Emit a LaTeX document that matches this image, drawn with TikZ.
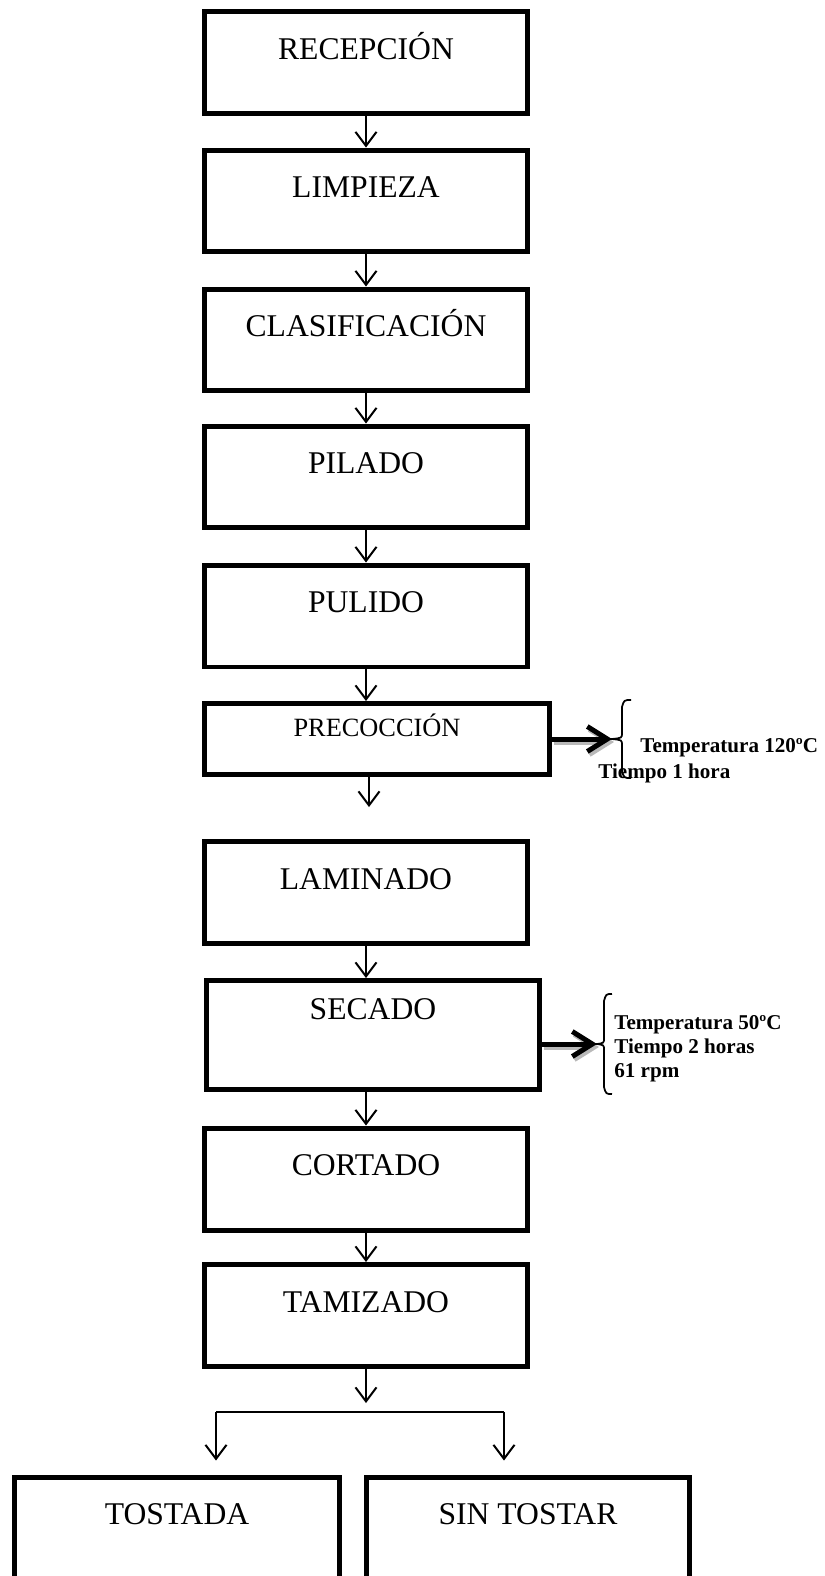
\documentclass[tikz,border=0pt]{standalone}
\usepackage{fontspec}
\setmainfont{Liberation Serif}
\usetikzlibrary{arrows.meta}
\tikzset{
  stage/.style={draw, line width=0.1cm, inner sep=0pt, minimum width=6.46cm,
    text height=0.95cm, text depth=1.09cm, font=\fontsize{18}{20}\selectfont},
  flow/.style={-{Straight Barb[length=0.28cm,width=0.42cm]}, line width=0.04cm},
  heavy/.style={-{Straight Barb[length=0.4cm,width=0.5cm]}, line width=0.1cm},
  note/.style={font=\fontsize{12}{14}\selectfont\bfseries, inner sep=0pt, anchor=base west},
  curly/.style={line width=0.035cm}
}
\begin{document}
\begin{tikzpicture}[x=0.02cm, y=-0.02cm]
\clip (0,0) rectangle (825,1576);
\node[stage] (recep) at (366,62.5) {RECEPCIÓN};
\node[stage] (limp) at (366,201) {LIMPIEZA};
\node[stage] (clasif) at (366,340) {CLASIFICACIÓN};
\node[stage] (pilado) at (366,477) {PILADO};
\node[stage] (pulido) at (366,616) {PULIDO};
\node[stage, minimum width=6.9cm, text height=0.66cm, text depth=0.76cm,
  font=\fontsize{15}{17}\selectfont] (precoc) at (377,739) {PRECOCCIÓN};
\node[stage] (lamin) at (366,892.5) {LAMINADO};
\node[stage, minimum width=6.66cm, text height=0.77cm, text depth=1.41cm] (secado) at (373,1035) {SECADO};
\node[stage] (cortado) at (366,1179) {CORTADO};
\node[stage] (tamiz) at (366,1315.5) {TAMIZADO};
\node[stage, anchor=north, minimum width=6.5cm, text depth=3cm] (tostada) at (177,1474.5) {TOSTADA};
\node[stage, anchor=north, text depth=3cm] (sintostar) at (528,1474.5) {SIN TOSTAR};

\coordinate (afterpre) at (369,807);
\coordinate (aftertam) at (366,1403);
\coordinate (splitL) at (216,1412);
\coordinate (splitR) at (504,1412);
\path[flow]
(recep) edge (limp)
(limp) edge (clasif)
(clasif) edge (pilado)
(pilado) edge (pulido)
(pulido.south) edge (pulido.south |- precoc.north)
(precoc.south -| afterpre) edge (afterpre)
(lamin.south) edge (lamin.south |- secado.north)
(secado.south -| cortado.north) edge (cortado)
(cortado) edge (tamiz)
(tamiz) edge (aftertam)
(splitL) edge[shorten >=0.28cm] (splitL |- tostada.north)
(splitR) edge[shorten >=0.28cm] (splitR |- sintostar.north);
\draw[line width=0.035cm] (splitL) -- (splitR);

\coordinate (tipA) at (612,739);
\coordinate (tipB) at (597,1044);
\draw[heavy, gray!55, transform canvas={xshift=0.04cm, yshift=-0.06cm}] (precoc.east) -- (tipA);
\draw[heavy] (precoc.east) -- (tipA);
\draw[heavy, gray!55, transform canvas={xshift=0.04cm, yshift=-0.06cm}] (secado.east |- tipB) -- (tipB);
\draw[heavy] (secado.east |- tipB) -- (tipB);
\draw[curly] (631,700) .. controls (624,700) .. (622,707) -- (622,733)
  .. controls (622,738) .. (612,739) .. controls (622,740) .. (622,745)
  -- (622,771) .. controls (624,778) .. (631,778);
\draw[curly] (612,994) .. controls (606,994) .. (604,1001) -- (604,1038)
  .. controls (604,1043) .. (597,1044) .. controls (604,1045) .. (604,1050)
  -- (604,1087) .. controls (606,1094) .. (612,1094);

\node[note] (tempA) at (640,752) {Temperatura 120ºC};
\node[note] (timeA) at (598,778) {Tiempo 1 hora};
\node[note] (tempB) at (614,1029) {Temperatura 50ºC};
\node[note] (timeB) at (614,1053) {Tiempo 2 horas};
\node[note] (rpmB) at (614,1077) {61 rpm};
\end{tikzpicture}
\end{document}
